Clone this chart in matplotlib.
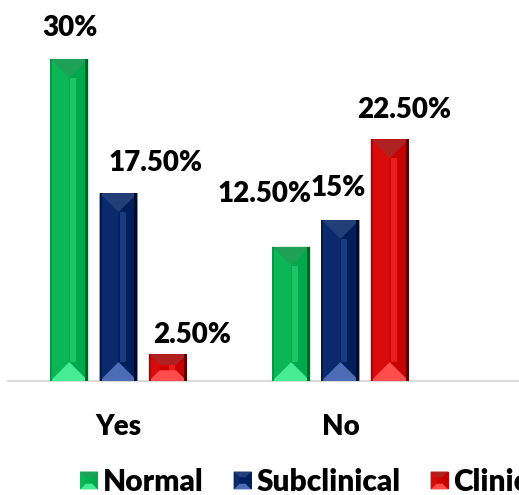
"""
Grouped bar chart of Normal / Subclinical / Clinical shares, with bevelled bars.
"""

import matplotlib
matplotlib.use("Agg")
import matplotlib.pyplot as plt
from matplotlib.patches import Polygon, Rectangle
import numpy as np

# Data
categories = ["Yes", "No"]
series_names = ["Normal", "Subclinical", "Clinical"]
normal = [30.0, 12.5]
subclinical = [17.5, 15.0]
clinical = [2.5, 22.5]
value_labels = [["30%", "12.50%"], ["17.50%", "15%"], ["2.50%", "22.50%"]]

# Shades per series: body, left half, right half, highlight, top, bottom, left rim, right rim
palettes = [
    ["#00B050", "#0CB556", "#00AA4C", "#1DC565", "#1FA257", "#45EC94", "#079A45", "#005E2A"],
    ["#002060", "#0B2A6C", "#001E5A", "#183A80", "#223F7A", "#4C6DB6", "#001A50", "#000B26"],
    ["#D00000", "#D80A0A", "#C60000", "#EC1C1C", "#B02222", "#FF4C4C", "#B80000", "#580000"],
]

# Manual label nudges in pixels (dx, dy) from the bar top centre
label_offsets = [[(1, 31), (-27, 53)], [(37, 30), (-2, 32)], [(24, 19), (14, 29)]]

FONT = "Lato"
plt.rcParams["font.family"] = [FONT, "DejaVu Sans"]

W, H, DPI = 519, 495, 100
fig = plt.figure(figsize=(W / DPI, H / DPI), dpi=DPI)
ax = fig.add_axes([8 / W, 114 / H, 512 / W, 375.7 / H])
ax.set_xlim(-0.498, 1.809)
ax.set_ylim(0, 35)

x = np.arange(len(categories))
width = 0.171
offset = 0.222
all_series = [normal, subclinical, clinical]

bars = []
for i, vals in enumerate(all_series):
    b = ax.bar(x + (i - 1) * offset, vals, width, color=palettes[i][0],
               linewidth=0, zorder=2)
    bars.append(b)

fig.canvas.draw()
to_data = ax.transData.inverted()


def poly(points, color, z=3):
    pts = to_data.transform(np.array(points, dtype=float))
    ax.add_patch(Polygon(pts, closed=True, facecolor=color, edgecolor="none",
                         zorder=z))


def bevel(rect, pal):
    """Paint an angle bevel over one bar, working in pixel space."""
    (x0, y0), (x1, y1) = ax.transData.transform(
        [(rect.get_x(), rect.get_y()),
         (rect.get_x() + rect.get_width(), rect.get_y() + rect.get_height())])
    w, h = x1 - x0, y1 - y0
    d = min(w / 2, 0.4 * h)
    cx = (x0 + x1) / 2
    # left and right faces
    poly([(x0, y0), (x0 + d, y0 + d), (x0 + d, y1 - d), (x0, y1)], pal[1])
    poly([(x1, y0), (x1 - d, y0 + d), (x1 - d, y1 - d), (x1, y1)], pal[2])
    # highlight stripe just right of the ridge
    if h - 2 * d > 4:
        poly([(cx + 1, y0 + d), (cx + 7, y0 + d), (cx + 7, y1 - d),
              (cx + 1, y1 - d)], pal[3])
    # top and bottom faces
    poly([(x0, y1), (x1, y1), (x1 - d, y1 - d), (x0 + d, y1 - d)], pal[4])
    poly([(x0, y0), (x1, y0), (x1 - d, y0 + d), (x0 + d, y0 + d)], pal[5])
    # rims
    poly([(x0, y0), (x0 + 2, y0), (x0 + 2, y1), (x0, y1)], pal[6], 4)
    poly([(x1 - 3, y0), (x1, y0), (x1, y1), (x1 - 3, y1)], pal[7], 4)


for i, b in enumerate(bars):
    for j, rect in enumerate(b):
        bevel(rect, palettes[i])
        dx, dy = label_offsets[i][j]
        ax.annotate(value_labels[i][j],
                    (rect.get_x() + rect.get_width() / 2, rect.get_height()),
                    xytext=(dx, dy), textcoords="offset pixels",
                    ha="center", va="center", fontsize=20, fontweight="heavy",
                    color="black", zorder=5)

# Axes styling
for side in ["top", "right", "left"]:
    ax.spines[side].set_visible(False)
ax.spines["bottom"].set_color("#D9D9D9")
ax.spines["bottom"].set_linewidth(1.5)
ax.spines["bottom"].set_zorder(1)
ax.set_yticks([])
ax.set_xticks(x)
ax.set_xticklabels(categories, fontsize=20, fontweight="heavy")
ax.tick_params(axis="x", length=0, pad=24)


class BevelHandler:
    """Draw a small bevelled square as a legend key."""

    def __init__(self, pal):
        self.pal = pal

    def legend_artist(self, legend, orig_handle, fontsize, handlebox):
        s = handlebox.width
        x0 = -handlebox.xdescent
        y0 = -handlebox.ydescent + (handlebox.height - s) / 2
        x1, y1 = x0 + s, y0 + s
        d = s * 0.32
        tr = handlebox.get_transform()
        pal = self.pal
        parts = [
            ([(x0, y0), (x1, y0), (x1, y1), (x0, y1)], pal[0]),
            ([(x0, y1), (x1, y1), (x1 - d, y1 - d), (x0 + d, y1 - d)], pal[4]),
            ([(x0, y0), (x1, y0), (x1 - d, y0 + d), (x0 + d, y0 + d)], pal[5]),
            ([(x1, y0), (x1 - d, y0 + d), (x1 - d, y1 - d), (x1, y1)], pal[2]),
            ([(x0, y0), (x0 + d, y0 + d), (x0 + d, y1 - d), (x0, y1)], pal[1]),
        ]
        first = None
        for pts, c in parts:
            p = Polygon(pts, closed=True, facecolor=c, edgecolor="none",
                        transform=tr)
            handlebox.add_artist(p)
            first = first or p
        return first


handles = [Rectangle((0, 0), 1, 1) for _ in series_names]
fig.legend(handles, series_names,
           handler_map={h: BevelHandler(p) for h, p in zip(handles, palettes)},
           loc="center left", bbox_to_anchor=(80 / W, 13 / H), ncol=3,
           frameon=False, prop={"weight": "heavy", "size": 21.5},
           handlelength=0.6, handleheight=0.6, handletextpad=0.17,
           columnspacing=1.0, borderpad=0, borderaxespad=0)

fig.savefig("out.png", dpi=DPI)
